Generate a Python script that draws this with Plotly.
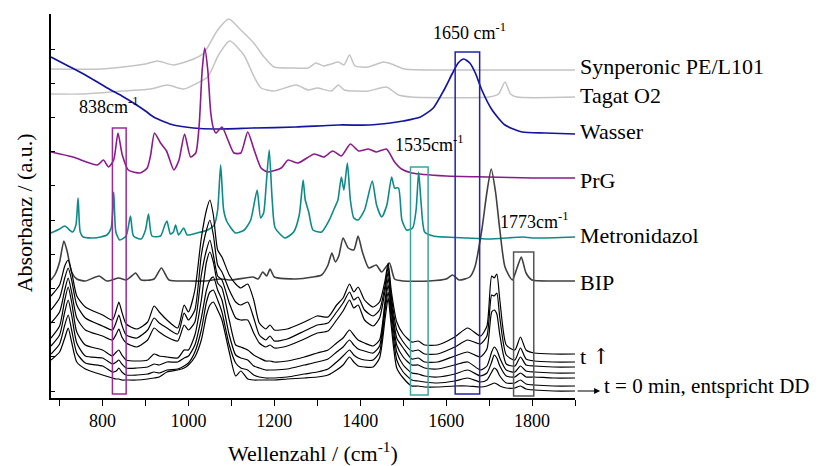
import plotly.graph_objects as go

# ---------------- data (wavenumber in cm^-1, absorbance in arbitrary stacked units) ----------------
syn_x = [680, 800, 848, 900, 928, 965, 1012, 1036, 1068, 1094, 1122, 1152, 1176, 1199, 1240, 1279, 1297, 1315,
         1332, 1349, 1362, 1375, 1388, 1418, 1454, 1473, 1503, 1600, 1900]
syn_y = [329, 329, 331, 334, 337, 333, 339, 345, 368, 379, 368, 355, 341, 331, 330, 330, 335, 332,
         334, 336, 333, 343, 332, 331, 336, 334, 329, 328, 328]

tag_x = [680, 755, 848, 912, 951, 989, 1021, 1045, 1070, 1096, 1129, 1153, 1169, 1199, 1251, 1279, 1300, 1333,
         1349, 1363, 1419, 1461, 1489, 1520, 1700, 1722, 1737, 1750, 1765, 1900]
tag_y = [304, 304, 307, 309, 313, 309, 315, 321, 343, 357, 343, 321, 310, 307, 313, 308, 310, 307,
         313, 308, 307, 311, 303, 301, 301, 304, 316, 304, 301, 301]

was_x = [680, 720, 760, 811, 845, 872, 900, 919, 945, 965, 1012, 1060, 1150, 1250, 1350, 1420, 1470, 1500,
         1540, 1570, 1595, 1615, 1628, 1641, 1655, 1668, 1683, 1707, 1737, 1777, 1830, 1900]
was_y = [341, 332, 323, 310, 302, 295, 287, 281, 276, 273, 270, 269, 270, 271, 273, 273, 275, 277,
         281, 290, 308, 325, 335, 339, 335, 325, 308, 288, 273, 266, 265, 264]

prg_x = [680, 731, 788, 802, 814, 826, 836, 846, 860, 888, 904, 912, 921, 935, 949, 966, 978, 991, 1005, 1017,
         1025, 1032, 1038, 1045, 1052, 1058, 1064, 1078, 1092, 1106, 1122, 1138, 1153, 1169, 1185, 1216, 1232,
         1255, 1293, 1315, 1336, 1356, 1377, 1396, 1419, 1438, 1461, 1480, 1496, 1520, 1600, 1700, 1800, 1900]
prg_y = [246, 241, 233, 238, 231, 238, 265, 243, 228, 225, 230, 243, 265, 255, 247, 228, 238, 264, 241, 245,
         273, 328, 350, 328, 285, 270, 265, 271, 258, 245, 245, 266, 248, 230, 226, 230, 238,
         235, 244, 241, 247, 242, 254, 247, 249, 246, 249, 236, 229, 225, 222, 221, 220, 220]

met_x = [680, 700, 712, 730, 738, 743, 748, 755, 780, 810, 820, 826, 831, 840, 855, 865, 872, 890, 900, 907,
         915, 935, 945, 950, 958, 965, 970, 977, 989, 997, 1020, 1045, 1060, 1068, 1075, 1082, 1090, 1110, 1130,
         1145, 1160, 1168, 1175, 1181, 1188, 1195, 1202, 1225, 1245, 1258, 1267, 1272, 1280, 1290, 1310, 1328,
         1340, 1348, 1356, 1362, 1370, 1377, 1385, 1395, 1410, 1428, 1438, 1450, 1462, 1473, 1480, 1489, 1497,
         1508, 1522, 1530, 1536, 1542, 1550, 1570, 1650, 1700, 1780, 1800, 1900]
met_y = [165, 169, 172, 166, 173, 200, 166, 161, 160, 163, 170, 206, 166, 158, 162, 182, 162, 159, 168, 184,
         162, 162, 173, 177, 164, 166, 173, 163, 170, 163, 165, 168, 173, 188, 233, 188, 176, 165, 168,
         178, 208, 180, 185, 213, 248, 198, 170, 160, 166, 183, 218, 198, 186, 168, 166, 178,
         190, 198, 221, 208, 235, 198, 180, 178, 188, 217, 193, 181, 193, 221, 210, 210, 178,
         168, 170, 188, 226, 193, 166, 162, 160, 159, 161, 160, 161]

bip_x = [680, 690, 700, 710, 718, 728, 740, 760, 792, 810, 838, 855, 868, 877, 890, 920, 937, 955, 1000, 1040,
         1075, 1100, 1150, 1162, 1173, 1182, 1190, 1200, 1250, 1290, 1310, 1325, 1334, 1342, 1350, 1360, 1372,
         1385, 1395, 1405, 1420, 1437, 1450, 1468, 1480, 1500, 1560, 1600, 1615, 1630, 1655, 1667, 1683, 1695,
         1705, 1715, 1725, 1737, 1754, 1765, 1775, 1786, 1800, 1850, 1900]
bip_y = [118, 124, 136, 157, 146, 126, 119, 117, 122, 117, 120, 118, 122, 125, 118, 119, 130, 118, 117, 117,
         119, 118, 121, 119, 126, 122, 129, 121, 119, 121, 123, 133, 145, 136, 142, 160, 150,
         148, 162, 146, 130, 133, 126, 135, 119, 117, 117, 119, 123, 118, 121, 131, 168, 206,
         229, 206, 168, 131, 118, 130, 141, 125, 118, 117, 117]

# time series of the formulation (top = latest, bottom = t = 0)
t_x = [680, 700, 712, 720, 728, 740, 760, 800, 823, 832, 838, 845, 855, 880, 905, 920, 932, 950, 975, 990,
       1000, 1015, 1030, 1042, 1050, 1058, 1068, 1078, 1095, 1110, 1122, 1138, 1152, 1165, 1180, 1190, 1200,
       1230, 1270, 1300, 1325, 1345, 1360, 1375, 1385, 1395, 1410, 1430, 1445, 1458, 1465, 1472, 1485, 1500,
       1520, 1535, 1550, 1580, 1620, 1650, 1680, 1695, 1706, 1712, 1718, 1725, 1740, 1760, 1773, 1786, 1805,
       1850, 1900]
t6_y = [102, 113, 132, 138, 126, 102, 91, 83, 78, 88, 96, 86, 74, 69, 76, 92, 86, 78, 70, 93,
        86, 108, 160, 188, 198, 183, 148, 141, 123, 114, 110, 114, 98, 75, 69, 73, 68,
        69, 76, 82, 81, 93, 100, 114, 106, 111, 98, 91, 96, 118, 135, 108, 76, 64,
        56, 57, 53, 53, 61, 70, 62, 72, 122, 120, 124, 98, 53, 48, 61, 48, 45, 44, 44]
t5_y = [88, 100, 120, 130, 118, 93, 80, 72, 68, 76, 83, 73, 63, 60, 68, 80, 75, 70, 64, 85,
        78, 88, 143, 168, 178, 163, 133, 126, 108, 96, 93, 96, 80, 63, 58, 62, 57,
        59, 67, 73, 75, 86, 95, 106, 98, 101, 88, 82, 88, 113, 131, 103, 68, 56,
        47, 48, 44, 44, 51, 58, 54, 62, 103, 102, 105, 80, 43, 38, 50, 39, 37, 36, 36]
t4_y = [75, 86, 108, 120, 106, 80, 68, 62, 58, 64, 69, 61, 55, 51, 58, 70, 66, 61, 57, 73,
        68, 76, 123, 148, 158, 143, 122, 118, 95, 80, 78, 78, 65, 55, 51, 53, 50,
        52, 59, 65, 67, 78, 87, 98, 90, 93, 78, 72, 80, 108, 126, 98, 60, 50,
        39, 40, 36, 36, 42, 46, 41, 49, 86, 88, 84, 63, 34, 32, 41, 33, 32, 31, 31]
t3_y = [60, 72, 98, 111, 96, 66, 53, 48, 42, 46, 48, 43, 38, 37, 38, 44, 42, 41, 40, 48,
        48, 63, 98, 136, 146, 136, 115, 110, 78, 53, 51, 48, 43, 40, 37, 37, 36,
        37, 41, 45, 48, 55, 60, 68, 63, 58, 55, 52, 58, 98, 120, 93, 53, 41,
        33, 33, 30, 29, 33, 36, 28, 32, 46, 51, 48, 40, 28, 26, 32, 27, 26, 25, 25]
t2_y = [52, 63, 86, 98, 83, 55, 42, 40, 34, 36, 38, 34, 30, 30, 31, 34, 33, 36, 36, 40,
        42, 53, 80, 108, 118, 121, 108, 98, 63, 43, 40, 38, 32, 30, 28, 28, 28,
        29, 33, 36, 39, 46, 51, 58, 53, 49, 47, 45, 52, 93, 113, 88, 46, 33,
        25, 24, 22, 21, 24, 28, 22, 25, 36, 43, 40, 32, 22, 21, 25, 21, 21, 20, 20]
t1_y = [44, 54, 73, 83, 68, 45, 35, 32, 26, 27, 30, 26, 23, 23, 24, 26, 25, 28, 29, 32,
        35, 46, 68, 96, 106, 108, 98, 86, 53, 35, 30, 28, 23, 21, 20, 20, 20,
        21, 24, 26, 29, 36, 42, 48, 43, 40, 38, 38, 46, 88, 106, 80, 38, 26,
        18, 17, 16, 15, 17, 20, 16, 18, 26, 30, 28, 22, 15, 15, 18, 14, 13, 12, 12]
t0_y = [38, 46, 60, 70, 56, 36, 29, 23, 20, 19, 19, 18, 18, 18, 19, 20, 21, 26, 28, 30,
        33, 41, 58, 83, 93, 96, 88, 78, 46, 22, 27, 19, 18, 18, 18, 18, 18,
        19, 20, 21, 23, 28, 33, 41, 36, 32, 31, 31, 40, 80, 100, 73, 30, 20,
        12, 12, 11, 11, 12, 12, 11, 12, 14, 15, 14, 12, 10, 10, 12, 9, 8, 7, 7]

# marker boxes: (wavenumber from, to, absorbance bottom, top)
box_838 = [823, 855, 4, 270]
box_1535 = [1517, 1558, 3, 231]
box_1650 = [1621, 1678, 4, 346]
box_1773 = [1757, 1804, 2, 146]

# ---------------- figure ----------------
FONT = "Liberation Serif"
fig = go.Figure()

def add(x, y, color, width=1.5):
    fig.add_trace(go.Scatter(x=x, y=y, mode="lines",
                             line=dict(color=color, width=width, shape="spline", smoothing=0.6),
                             hoverinfo="skip", showlegend=False))

add(syn_x, syn_y, "#c4c4c4")
add(tag_x, tag_y, "#c4c4c4")
add(was_x, was_y, "#1414a0", 1.7)
add(prg_x, prg_y, "#8b1a8b", 1.6)
add(met_x, met_y, "#0e8a88", 1.6)
add(bip_x, bip_y, "#404040", 1.6)
for ys in [t6_y, t5_y, t4_y, t3_y, t2_y, t1_y, t0_y]:
    add(t_x, ys, "#000000", 1.2)

for (b, c) in [(box_838, "#9a2a9a"), (box_1535, "#3fa3a0"), (box_1650, "#2222aa"), (box_1773, "#555555")]:
    fig.add_shape(type="rect", x0=b[0], x1=b[1], y0=b[2], y1=b[3], xref="x", yref="y",
                  line=dict(color=c, width=1.5), fillcolor="rgba(0,0,0,0)", layer="above")

def txt(x, y, s, size=18, xref="x", yref="y", xanchor="center", **kw):
    fig.add_annotation(x=x, y=y, text=s, xref=xref, yref=yref, xanchor=xanchor, yanchor="middle",
                       showarrow=False, font=dict(family=FONT, size=size, color="black"), **kw)

txt(816, 293, "838cm<sup>-1</sup>")
txt(1655, 367, "1650 cm<sup>-1</sup>")
txt(1561, 255, "1535cm<sup>-1</sup>")
txt(1805, 178, "1773cm<sup>-1</sup>")

right_labels = [("Synperonic PE/L101", 331.5), ("Tagat O2", 302.5), ("Wasser", 267), ("PrG", 217.5),
                ("Metronidazol", 162.5), ("BIP", 116)]
for s, yv in right_labels:
    txt(1.005, yv, s, size=22, xref="paper", xanchor="left")
txt(1.005, 42, "t <span style=\"font-family:DejaVu Serif;color:black\">\u2191</span>",
    size=22, xref="paper", xanchor="left")
txt(1.051, 12, "t = 0 min, entspricht DD", size=21, xref="paper", xanchor="left")
fig.add_annotation(x=1.048, y=7, xref="paper", yref="y", text="", showarrow=True,
                   ax=-24, ay=0, axref="pixel", ayref="pixel", arrowhead=2, arrowsize=1,
                   arrowwidth=1.2, arrowcolor="black")

txt(0.5, -0.141, "Wellenzahl / (cm<sup>-1</sup>)", size=22, xref="paper", yref="paper")
txt(-0.05, 0.483, "Absorbanz / (a.u.)", size=22, xref="paper", yref="paper", textangle=-90)

fig.update_layout(
    width=811, height=458,
    margin=dict(l=43, r=244, t=6, b=68),
    paper_bgcolor="white", plot_bgcolor="white",
    font=dict(family=FONT, size=18, color="black"),
    xaxis=dict(range=[680, 1900], showgrid=False, zeroline=False, showline=True, linecolor="black",
               linewidth=1.5, ticks="outside", ticklen=6, tickwidth=1, tickcolor="black",
               tick0=800, dtick=200, tickfont=dict(family=FONT, size=18),
               minor=dict(tick0=700, dtick=200, ticks="outside", ticklen=6, tickwidth=1,
                          tickcolor="black", showgrid=False)),
    yaxis=dict(range=[0, 384], showgrid=False, zeroline=False, showline=True, linecolor="black",
               linewidth=1.5, ticks="inside", ticklen=4, tickwidth=1, tickcolor="black",
               tickvals=[7 + 34.2 * k for k in range(12)], showticklabels=False),
)

fig.write_html("out.html")
